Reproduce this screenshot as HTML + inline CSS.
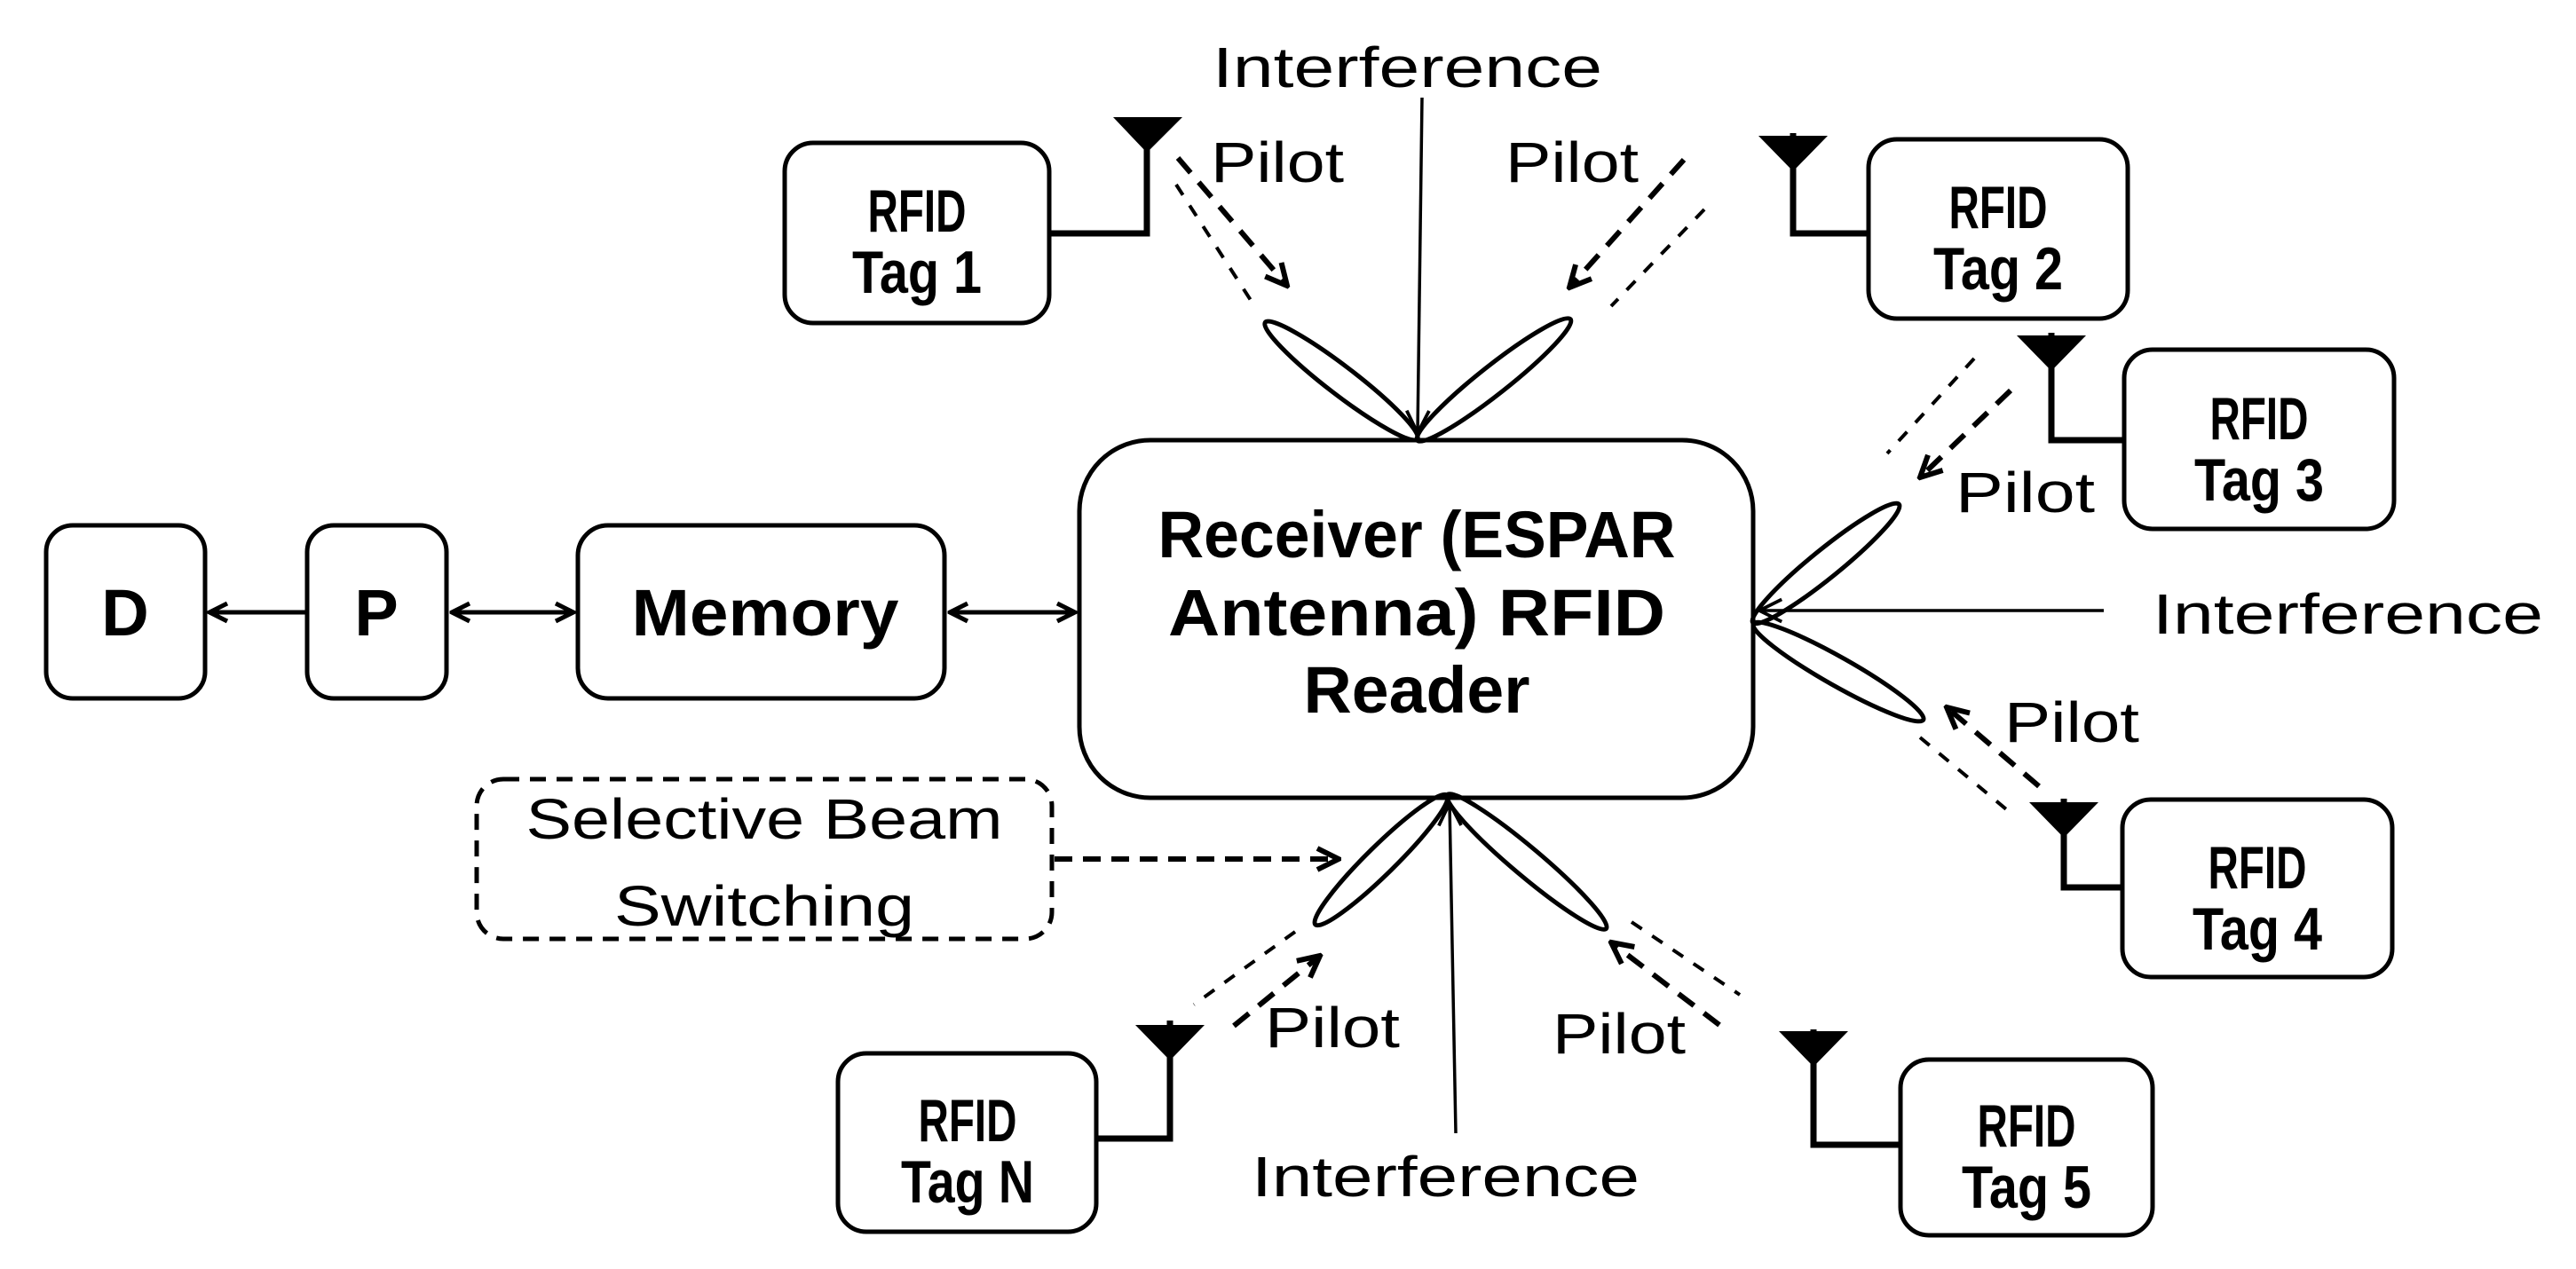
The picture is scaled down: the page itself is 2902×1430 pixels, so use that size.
<!DOCTYPE html>
<html><head><meta charset="utf-8"><style>
html,body{margin:0;padding:0;background:#fff;}
svg{display:block;}
text{font-family:"Liberation Sans",sans-serif;fill:#000;}
.b{font-weight:bold;}
</style></head><body>
<svg width="2902" height="1430" viewBox="0 0 2902 1430" xmlns="http://www.w3.org/2000/svg">
<defs>
<marker id="ah" viewBox="0 0 10 10" refX="9" refY="5" markerWidth="5" markerHeight="5" orient="auto-start-reverse" markerUnits="strokeWidth"><path d="M1,1 L9,5 L1,9" fill="none" stroke="#000" stroke-width="2"/></marker>
<marker id="ahs" viewBox="0 0 10 10" refX="9" refY="5" markerWidth="9" markerHeight="9" orient="auto-start-reverse" markerUnits="strokeWidth"><path d="M1,1 L9,5 L1,9" fill="none" stroke="#000" stroke-width="1.2"/></marker>
</defs>
<g fill="none" stroke="#000" stroke-width="5">
<rect x="52" y="592" width="179" height="195" rx="30"/>
<rect x="346" y="592" width="157" height="195" rx="30"/>
<rect x="651" y="592" width="413" height="195" rx="34"/>
<rect x="1216" y="496" width="759" height="403" rx="80"/>
<rect x="884" y="161" width="298" height="203" rx="32"/>
<rect x="2105" y="157" width="292" height="202" rx="32"/>
<rect x="2393" y="394" width="304" height="202" rx="32"/>
<rect x="2391" y="901" width="304" height="200" rx="32"/>
<rect x="2141" y="1194" width="284" height="198" rx="32"/>
<rect x="944" y="1187" width="291" height="201" rx="32"/>
</g>
<g stroke="#000" stroke-width="5" fill="none">
<line x1="346" y1="690" x2="236" y2="690" marker-end="url(#ah)"/>
<line x1="509" y1="690" x2="646" y2="690" marker-start="url(#ah)" marker-end="url(#ah)"/>
<line x1="1070" y1="690" x2="1211" y2="690" marker-start="url(#ah)" marker-end="url(#ah)"/>
</g>
<rect x="537" y="878" width="648" height="180" rx="30" fill="none" stroke="#000" stroke-width="5" stroke-dasharray="18,12"/>
<line x1="1188" y1="968" x2="1508" y2="968" stroke="#000" stroke-width="6" stroke-dasharray="20,12" marker-end="url(#ah)"/>
<g stroke="#000" stroke-width="7" fill="none">
<polyline points="1182,263 1292,263 1292,160"/>
<polyline points="2105,263 2020,263 2020,150"/>
<polyline points="2393,496 2311,496 2311,375"/>
<polyline points="2391,1000 2325,1000 2325,900"/>
<polyline points="2141,1290 2043,1290 2043,1160"/>
<polyline points="1235,1283 1318,1283 1318,1150"/>
</g>
<g fill="#000">
<polygon points="1254,132 1332,132 1292,172"/>
<polygon points="1981,153 2059,153 2020,193"/>
<polygon points="2272,378 2350,378 2311,418"/>
<polygon points="2286,904 2364,904 2325,944"/>
<polygon points="2004,1162 2082,1162 2043,1202"/>
<polygon points="1279,1155 1357,1155 1318,1195"/>
</g>
<g fill="none" stroke="#000" stroke-width="5">
<ellipse cx="1511" cy="429" rx="108" ry="16" transform="rotate(37.5 1511 429)"/>
<ellipse cx="1683" cy="428" rx="110" ry="16" transform="rotate(-38.3 1683 428)"/>
<ellipse cx="2057" cy="635" rx="106" ry="16" transform="rotate(-39 2057 635)"/>
<ellipse cx="2071" cy="757" rx="110" ry="16" transform="rotate(29.5 2071 757)"/>
<ellipse cx="1556" cy="969" rx="104" ry="16" transform="rotate(-44.5 1556 969)"/>
<ellipse cx="1720" cy="971" rx="117" ry="16" transform="rotate(40.1 1720 971)"/>
</g>
<g stroke="#000" stroke-width="3.5" fill="none">
<line x1="1602" y1="110" x2="1597" y2="488" marker-end="url(#ahs)"/>
<line x1="2370" y1="688" x2="1982" y2="688" marker-end="url(#ahs)"/>
<line x1="1640" y1="1277" x2="1633" y2="905" marker-end="url(#ahs)"/>
</g>
<g stroke="#000" fill="none">
<line x1="1325" y1="208" x2="1414" y2="346" stroke-width="4" stroke-dasharray="14,14"/>
<line x1="1327" y1="178" x2="1450" y2="322" stroke-width="6" stroke-dasharray="22,14" marker-end="url(#ah)"/>
<line x1="1920" y1="236" x2="1815" y2="345" stroke-width="4" stroke-dasharray="14,14"/>
<line x1="1897" y1="180" x2="1768" y2="324" stroke-width="6" stroke-dasharray="22,14" marker-end="url(#ah)"/>
<line x1="2224" y1="404" x2="2126" y2="511" stroke-width="4" stroke-dasharray="14,14"/>
<line x1="2265" y1="440" x2="2163" y2="538" stroke-width="6" stroke-dasharray="22,14" marker-end="url(#ah)"/>
<line x1="2163" y1="831" x2="2265" y2="916" stroke-width="4" stroke-dasharray="14,14"/>
<line x1="2297" y1="886" x2="2193" y2="797" stroke-width="6" stroke-dasharray="22,14" marker-end="url(#ah)"/>
<line x1="1838" y1="1039" x2="1960" y2="1121" stroke-width="4" stroke-dasharray="14,14"/>
<line x1="1937" y1="1155" x2="1815" y2="1062" stroke-width="6" stroke-dasharray="22,14" marker-end="url(#ah)"/>
<line x1="1459" y1="1050" x2="1345" y2="1132" stroke-width="4" stroke-dasharray="14,14"/>
<line x1="1390" y1="1156" x2="1487" y2="1077" stroke-width="6" stroke-dasharray="22,14" marker-end="url(#ah)"/>
</g>
<g font-size="74" text-anchor="middle">
<text class="b" x="141" y="716">D</text>
<text class="b" x="424" y="716">P</text>
<text class="b" x="862" y="716" textLength="301" lengthAdjust="spacingAndGlyphs">Memory</text>
<text class="b" x="1596" y="628" textLength="583" lengthAdjust="spacingAndGlyphs">Receiver (ESPAR</text>
<text class="b" x="1596" y="716" textLength="560" lengthAdjust="spacingAndGlyphs">Antenna) RFID</text>
<text class="b" x="1596" y="803" textLength="255" lengthAdjust="spacingAndGlyphs">Reader</text>
</g>
<g font-size="68" text-anchor="middle">
<text class="b" x="1033" y="261" textLength="111" lengthAdjust="spacingAndGlyphs">RFID</text>
<text class="b" x="1033" y="330" textLength="146" lengthAdjust="spacingAndGlyphs">Tag 1</text>
<text class="b" x="2251" y="257" textLength="111" lengthAdjust="spacingAndGlyphs">RFID</text>
<text class="b" x="2251" y="326" textLength="146" lengthAdjust="spacingAndGlyphs">Tag 2</text>
<text class="b" x="2545" y="495" textLength="111" lengthAdjust="spacingAndGlyphs">RFID</text>
<text class="b" x="2545" y="564" textLength="146" lengthAdjust="spacingAndGlyphs">Tag 3</text>
<text class="b" x="2543" y="1001" textLength="111" lengthAdjust="spacingAndGlyphs">RFID</text>
<text class="b" x="2543" y="1070" textLength="146" lengthAdjust="spacingAndGlyphs">Tag 4</text>
<text class="b" x="2283" y="1292" textLength="111" lengthAdjust="spacingAndGlyphs">RFID</text>
<text class="b" x="2283" y="1361" textLength="146" lengthAdjust="spacingAndGlyphs">Tag 5</text>
<text class="b" x="1090" y="1286" textLength="111" lengthAdjust="spacingAndGlyphs">RFID</text>
<text class="b" x="1090" y="1355" textLength="150" lengthAdjust="spacingAndGlyphs">Tag N</text>
</g>
<g font-size="64">
<text x="1366" y="98" textLength="439" lengthAdjust="spacingAndGlyphs">Interference</text>
<text x="2425" y="714" textLength="440" lengthAdjust="spacingAndGlyphs">Interference</text>
<text x="1410" y="1348" textLength="437" lengthAdjust="spacingAndGlyphs">Interference</text>
<text x="1364" y="205" textLength="150" lengthAdjust="spacingAndGlyphs">Pilot</text>
<text x="1696" y="205" textLength="150" lengthAdjust="spacingAndGlyphs">Pilot</text>
<text x="2203" y="577" textLength="157" lengthAdjust="spacingAndGlyphs">Pilot</text>
<text x="2258" y="836" textLength="152" lengthAdjust="spacingAndGlyphs">Pilot</text>
<text x="1749" y="1187" textLength="150" lengthAdjust="spacingAndGlyphs">Pilot</text>
<text x="1425" y="1180" textLength="152" lengthAdjust="spacingAndGlyphs">Pilot</text>
<text x="861" y="945" text-anchor="middle" textLength="537" lengthAdjust="spacingAndGlyphs">Selective Beam</text>
<text x="861" y="1043" text-anchor="middle" textLength="338" lengthAdjust="spacingAndGlyphs">Switching</text>
</g>
</svg>
</body></html>
